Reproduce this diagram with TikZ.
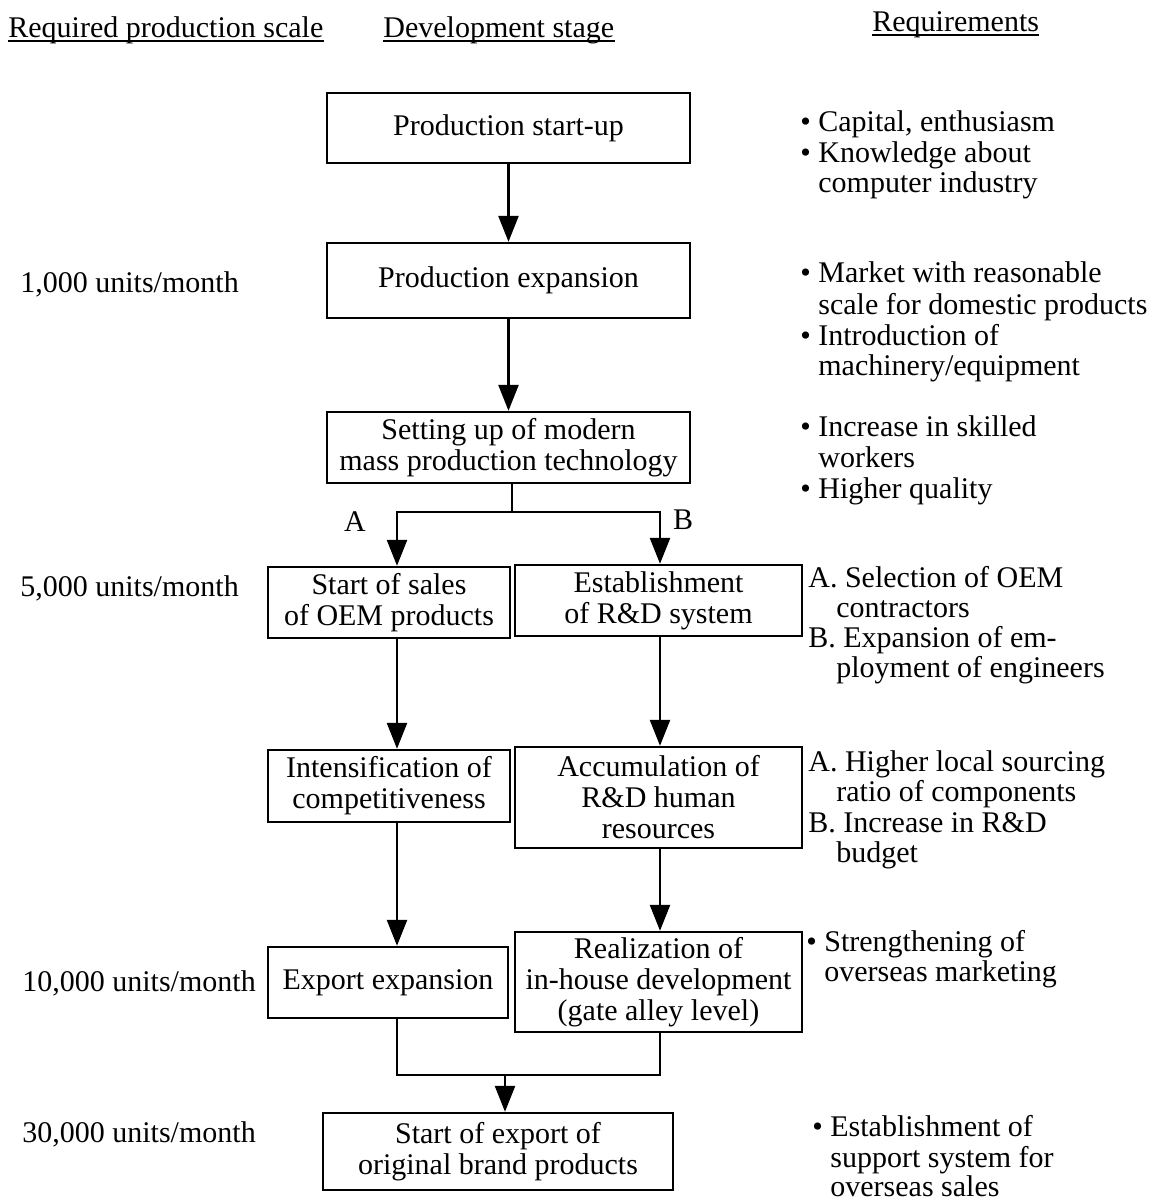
\documentclass[tikz,border=0pt]{standalone}
\usepackage{fontspec}
\setmainfont{Liberation Serif}
\usetikzlibrary{arrows.meta}
\begin{document}
\begin{tikzpicture}[x=0.5pt,y=-0.5pt,
  every node/.style={font=\fontsize{15pt}{15.5pt}\selectfont, inner sep=0pt},
  stage/.style={draw, line width=1.2pt, align=center},
  txt/.style={anchor=base west},
  link/.style={line width=1.3pt},
  arr/.style={link, -{Triangle[length=13pt,width=10pt]}},
  uline/.style={line width=0.7pt}]
\useasboundingbox (0,0) rectangle (1164,1201);

% column headers
\node[txt] (h1) at (8,37) {Required production scale};
\node[txt] (h2) at (383,37) {Development stage};
\node[txt] (h3) at (872,31) {Requirements};
\foreach \h in {h1,h2,h3}
  \draw[uline] ([yshift=-2pt]\h.base west) -- ([yshift=-2pt]\h.base east);

% development stages
\node[stage, minimum width=181.5pt, minimum height=35pt]   (start)  at (508.5,128)   {Production start-up};
\node[stage, minimum width=181.5pt, minimum height=37.5pt] (expand) at (508.5,280.5) {Production expansion};
\node[stage, minimum width=181.5pt, minimum height=35.5pt] (setup)  at (508.5,447.5) {Setting up of modern\\mass production technology};
\node[stage, minimum width=121pt,   minimum height=35.5pt] (oem)    at (389,602.5)   {Start of sales\\of OEM products};
\node[stage, minimum width=143.5pt, minimum height=35.5pt] (rd)     at (658.5,600.5) {Establishment\\of R\&D system};
\node[stage, minimum width=121pt,   minimum height=36pt]   (intens) at (389,786)     {Intensification of\\competitiveness};
\node[stage, minimum width=143.5pt, minimum height=50.5pt] (accum)  at (658.5,797.5) {Accumulation of\\R\&D human\\resources};
\node[stage, minimum width=120pt,   minimum height=35.5pt] (export) at (388,982.5)   {Export expansion};
\node[stage, minimum width=143.5pt, minimum height=50pt]   (realiz) at (658.5,982)   {Realization of\\in-house development\\(gate alley level)};
\node[stage, minimum width=175pt,   minimum height=38.5pt] (final)  at (498,1151.5)  {Start of export of\\original brand products};

% branch columns and junctions
\coordinate (colL) at (397,0);
\coordinate (colR) at (660,0);
\coordinate (split) at (512,512);
\coordinate (mrg) at (505,1075);

% connectors
\draw[arr] (start) -- (expand);
\draw[arr] (expand) -- (setup);
\draw[link] (setup.south -| split) -- (split);
\draw[arr] (split) -| (oem.north -| colL);
\draw[arr] (split) -| (rd.north -| colR);
\draw[arr] (oem.south -| colL) -- (intens.north -| colL);
\draw[arr] (rd.south -| colR) -- (accum.north -| colR);
\draw[arr] (intens.south -| colL) -- (export.north -| colL);
\draw[arr] (accum.south -| colR) -- (realiz.north -| colR);
\draw[link] (export.south -| colL) |- (mrg) -| (realiz.south -| colR);
\draw[arr] (mrg) -- (mrg |- final.north);

\node (lblA) at (355,522) {A};
\node (lblB) at (683,520) {B};

% production scale
\node[txt] (l1) at (20,292)  {1,000 units/month};
\node[txt] (l2) at (20,596)  {5,000 units/month};
\node[txt] (l3) at (22,991)  {10,000 units/month};
\node[txt] (l4) at (22,1142) {30,000 units/month};

% requirements
\node[txt] (r1)  at (800,131)  {\textbullet\ Capital, enthusiasm};
\node[txt] (r2)  at (800,162)  {\textbullet\ Knowledge about};
\node[txt] (r3)  at (818,192)  {computer industry};
\node[txt] (r4)  at (800,282)  {\textbullet\ Market with reasonable};
\node[txt] (r5)  at (818,314)  {scale for domestic products};
\node[txt] (r6)  at (800,345)  {\textbullet\ Introduction of};
\node[txt] (r7)  at (818,375)  {machinery/equipment};
\node[txt] (r8)  at (800,436)  {\textbullet\ Increase in skilled};
\node[txt] (r9)  at (818,467)  {workers};
\node[txt] (r10) at (800,498)  {\textbullet\ Higher quality};
\node[txt] (r11) at (808,587)  {A. Selection of OEM};
\node[txt] (r12) at (836,617)  {contractors};
\node[txt] (r13) at (808,647)  {B. Expansion of em-};
\node[txt] (r14) at (836,677)  {ployment of engineers};
\node[txt] (r15) at (808,771)  {A. Higher local sourcing};
\node[txt] (r16) at (836,801)  {ratio of components};
\node[txt] (r17) at (808,832)  {B. Increase in R\&D};
\node[txt] (r18) at (836,862)  {budget};
\node[txt] (r19) at (806,951)  {\textbullet\ Strengthening of};
\node[txt] (r20) at (824,981)  {overseas marketing};
\node[txt] (r21) at (812,1136) {\textbullet\ Establishment of};
\node[txt] (r22) at (830,1167) {support system for};
\node[txt] (r23) at (830,1196) {overseas sales};
\end{tikzpicture}
\end{document}
